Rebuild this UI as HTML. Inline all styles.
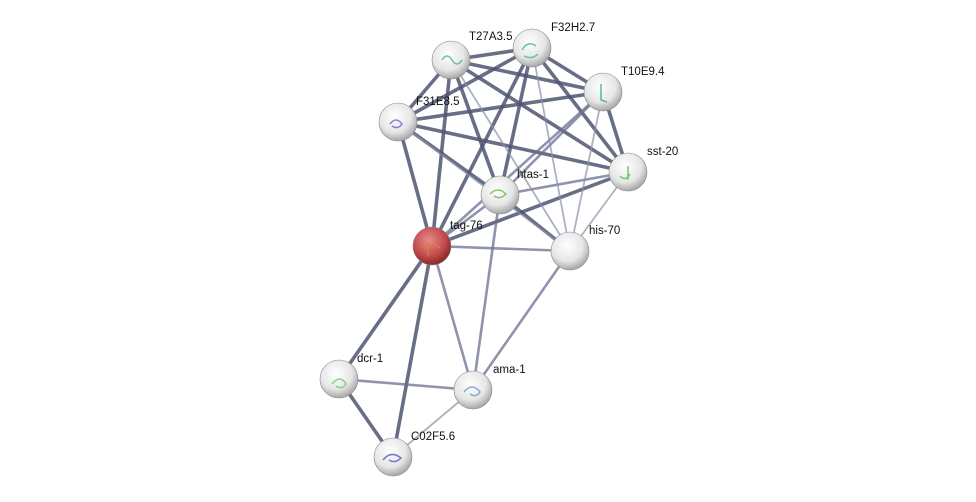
<!DOCTYPE html>
<html><head><meta charset="utf-8"><style>
html,body{margin:0;padding:0;background:#fff;}
svg{display:block;}
text{font-family:"Liberation Sans",sans-serif;font-size:11.5px;fill:#111;}
</style></head><body>
<svg width="976" height="502" viewBox="0 0 976 502" xmlns="http://www.w3.org/2000/svg">
<defs>
<radialGradient id="g" cx="0.42" cy="0.35" r="0.7">
<stop offset="0" stop-color="#ffffff"/><stop offset="0.6" stop-color="#e6e6e6"/><stop offset="1" stop-color="#9a9a9a"/>
</radialGradient>
<radialGradient id="r" cx="0.42" cy="0.35" r="0.7">
<stop offset="0" stop-color="#e88a8a"/><stop offset="0.6" stop-color="#c44a4a"/><stop offset="1" stop-color="#7a2020"/>
</radialGradient>
</defs>
<g stroke-linecap="round">
<g stroke="#4f5572" stroke-width="3.6" stroke-opacity="0.85">
<line x1="451" y1="60" x2="532" y2="48"/><line x1="451" y1="60" x2="603" y2="92"/>
<line x1="451" y1="60" x2="398" y2="122"/><line x1="451" y1="60" x2="628" y2="172"/>
<line x1="451" y1="60" x2="500" y2="195"/><line x1="451" y1="60" x2="432" y2="246"/>
<line x1="532" y1="48" x2="603" y2="92"/><line x1="532" y1="48" x2="398" y2="122"/>
<line x1="532" y1="48" x2="628" y2="172"/><line x1="532" y1="48" x2="500" y2="195"/>
<line x1="532" y1="48" x2="432" y2="246"/>
<line x1="603" y1="92" x2="398" y2="122"/><line x1="603" y1="92" x2="628" y2="172"/>
<line x1="398" y1="122" x2="628" y2="172"/><line x1="398" y1="122" x2="500" y2="195"/>
<line x1="398" y1="122" x2="432" y2="246"/>
<line x1="628" y1="172" x2="432" y2="246"/>
<line x1="500" y1="195" x2="570" y2="251"/>
<line x1="432" y1="246" x2="339" y2="379"/><line x1="432" y1="246" x2="393" y2="457"/>
<line x1="339" y1="379" x2="393" y2="457"/>
</g>
<g stroke="#6a7090" stroke-width="2.6" stroke-opacity="0.75">
<line x1="603" y1="92" x2="432" y2="246"/><line x1="603" y1="92" x2="500" y2="195"/>
<line x1="628" y1="172" x2="500" y2="195"/><line x1="500" y1="195" x2="432" y2="246"/>
<line x1="432" y1="246" x2="570" y2="251"/><line x1="432" y1="246" x2="473" y2="390"/>
<line x1="339" y1="379" x2="473" y2="390"/><line x1="570" y1="251" x2="473" y2="390"/>
<line x1="500" y1="195" x2="473" y2="390"/>
</g>
<g stroke="#8a90aa" stroke-width="1.8" stroke-opacity="0.7">
<line x1="451" y1="60" x2="570" y2="251"/><line x1="532" y1="48" x2="570" y2="251"/>
<line x1="603" y1="92" x2="570" y2="251"/><line x1="398" y1="122" x2="570" y2="251"/>
<line x1="628" y1="172" x2="570" y2="251"/><line x1="473" y1="390" x2="393" y2="457"/>
</g>
</g>
<g stroke="#888" stroke-width="0.6">
<circle cx="451" cy="60" r="19" fill="url(#g)"/>
<circle cx="532" cy="48" r="19" fill="url(#g)"/>
<circle cx="603" cy="92" r="19" fill="url(#g)"/>
<circle cx="398" cy="122" r="19" fill="url(#g)"/>
<circle cx="628" cy="172" r="19" fill="url(#g)"/>
<circle cx="500" cy="195" r="19" fill="url(#g)"/>
<circle cx="570" cy="251" r="19" fill="url(#g)"/>
<circle cx="432" cy="246" r="19" fill="url(#r)"/>
<circle cx="339" cy="379" r="19" fill="url(#g)"/>
<circle cx="473" cy="390" r="19" fill="url(#g)"/>
<circle cx="393" cy="457" r="19" fill="url(#g)"/>
</g>
<g fill="none" stroke-width="1.5" opacity="0.8">
<path d="M442 60 q5 -8 10 0 t10 0" stroke="#5a9"/>
<path d="M522 50 q6 -10 14 -4 M524 56 q8 4 14 -2" stroke="#3b9"/>
<path d="M601 84 v16 l6 2" stroke="#3a8"/>
<path d="M390 124 q6 -8 12 0 q-4 6 -10 2" stroke="#66c"/>
<path d="M620 176 q6 6 10 -2 M628 166 v14" stroke="#5b5"/>
<path d="M490 194 q8 -8 16 0 q-6 6 -12 2" stroke="#6b4"/>
<path d="M424 250 q8 -10 16 -2 M428 242 v14" stroke="#c83"/>
<path d="M332 384 q8 -10 14 0 q-4 6 -10 2" stroke="#6c6"/>
<path d="M464 392 q8 -10 16 0 q-4 6 -10 2" stroke="#69c"/>
<path d="M383 460 q8 -10 18 -2 q-6 6 -12 2" stroke="#55c"/>
</g>
<text x="469" y="40">T27A3.5</text>
<text x="551" y="31">F32H2.7</text>
<text x="621" y="75">T10E9.4</text>
<text x="416" y="105">F31E8.5</text>
<text x="647" y="155">sst-20</text>
<text x="517" y="178">htas-1</text>
<text x="589" y="234">his-70</text>
<text x="450" y="229">tag-76</text>
<text x="357" y="362">dcr-1</text>
<text x="493" y="373">ama-1</text>
<text x="411" y="440">C02F5.6</text>
</svg>
</body></html>
